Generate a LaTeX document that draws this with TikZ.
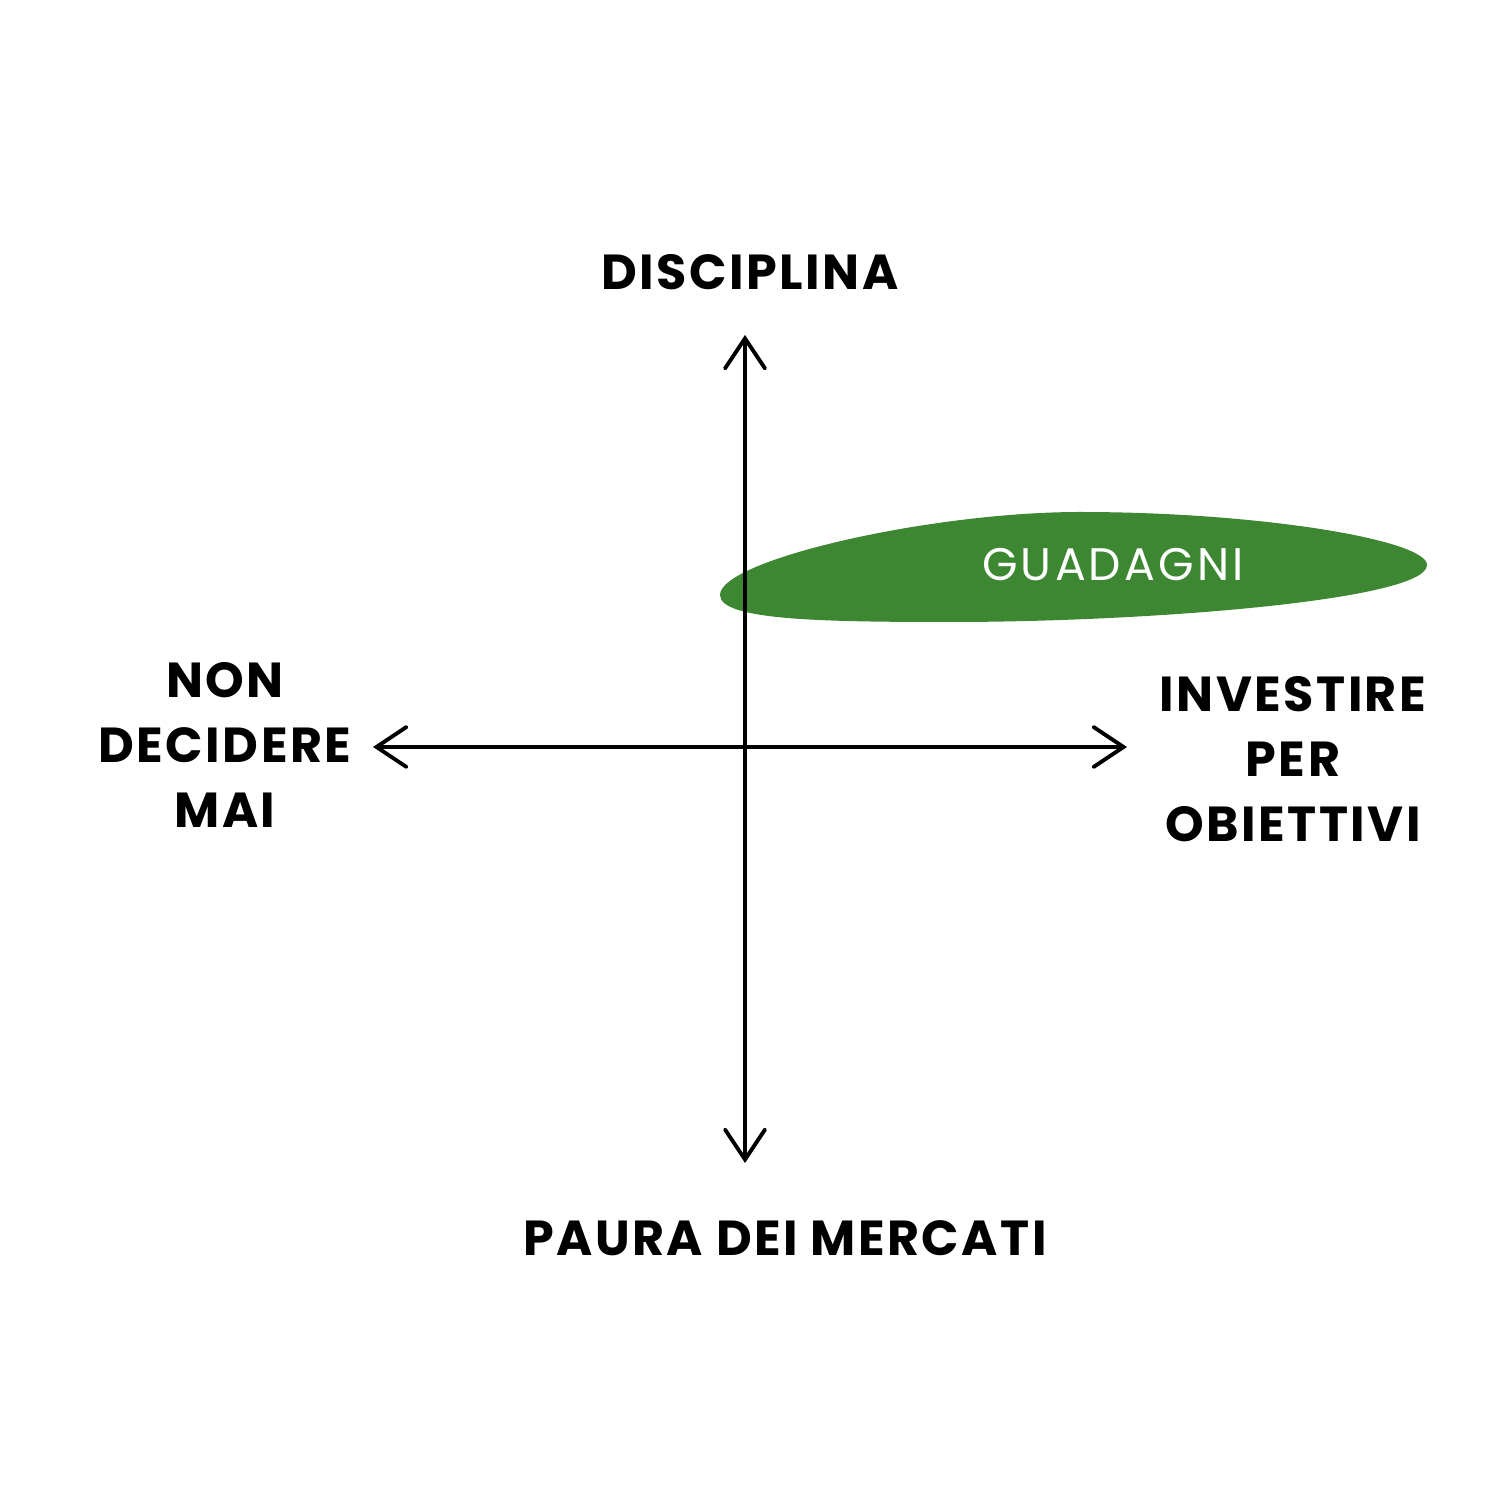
\documentclass[tikz,border=0pt]{standalone}
\usepackage{fontspec}
\setmainfont{Poppins}
\newfontfamily\handfont{Poppins}[LetterSpace=5]
\newfontfamily\tagfont{Poppins}[LetterSpace=7]
\usepackage{xcolor}
\usepackage{tikz}
\usetikzlibrary{arrows.meta}
\definecolor{blobgreen}{RGB}{41,122,28}

\begin{document}
\begin{tikzpicture}[line cap=round,
  axis/.style={line width=1.1pt, black, {Straight Barb[length=3mm,width=4mm,line cap=round]}-{Straight Barb[length=3mm,width=4mm,line cap=round]}},
  lbl/.style={font=\handfont\bfseries\fontsize{14}{18.5}\selectfont, align=center, inner sep=0pt},
  tag/.style={font=\tagfont\fontsize{13}{16}\selectfont, text=white, inner sep=0pt}]
\useasboundingbox (0,0) rectangle (15,15);
% axis ends
\coordinate (top) at (7.45,11.65);
\coordinate (bot) at (7.45,3.37);
\coordinate (lft) at (3.73,7.53);
\coordinate (rgt) at (11.27,7.53);
% green region
\fill[blobgreen, fill opacity=0.9] (7.2,9.05)
  .. controls (7.2,9.4) and (9.3,9.88) .. (10.8,9.88)
  .. controls (12.6,9.88) and (14.27,9.6) .. (14.27,9.35)
  .. controls (14.27,9.0) and (11.5,8.78) .. (9.5,8.78)
  .. controls (8.2,8.78) and (7.2,8.8) .. (7.2,9.05) -- cycle;
\node[tag] (gain) at (11.13,9.35) {GUADAGNI};
% axes
\draw[axis] (bot) -- (top);
\draw[axis] (lft) -- (rgt);
% labels
\node[lbl] (up) at (7.50,12.28) {DISCIPLINA};
\node[lbl] (down) at (7.85,2.62) {PAURA DEI MERCATI};
\node[lbl] (left) at (2.25,7.55) {NON\\DECIDERE\\MAI};
\node[lbl] (right) at (12.93,7.41) {INVESTIRE\\PER\\OBIETTIVI};
\end{tikzpicture}
\end{document}
